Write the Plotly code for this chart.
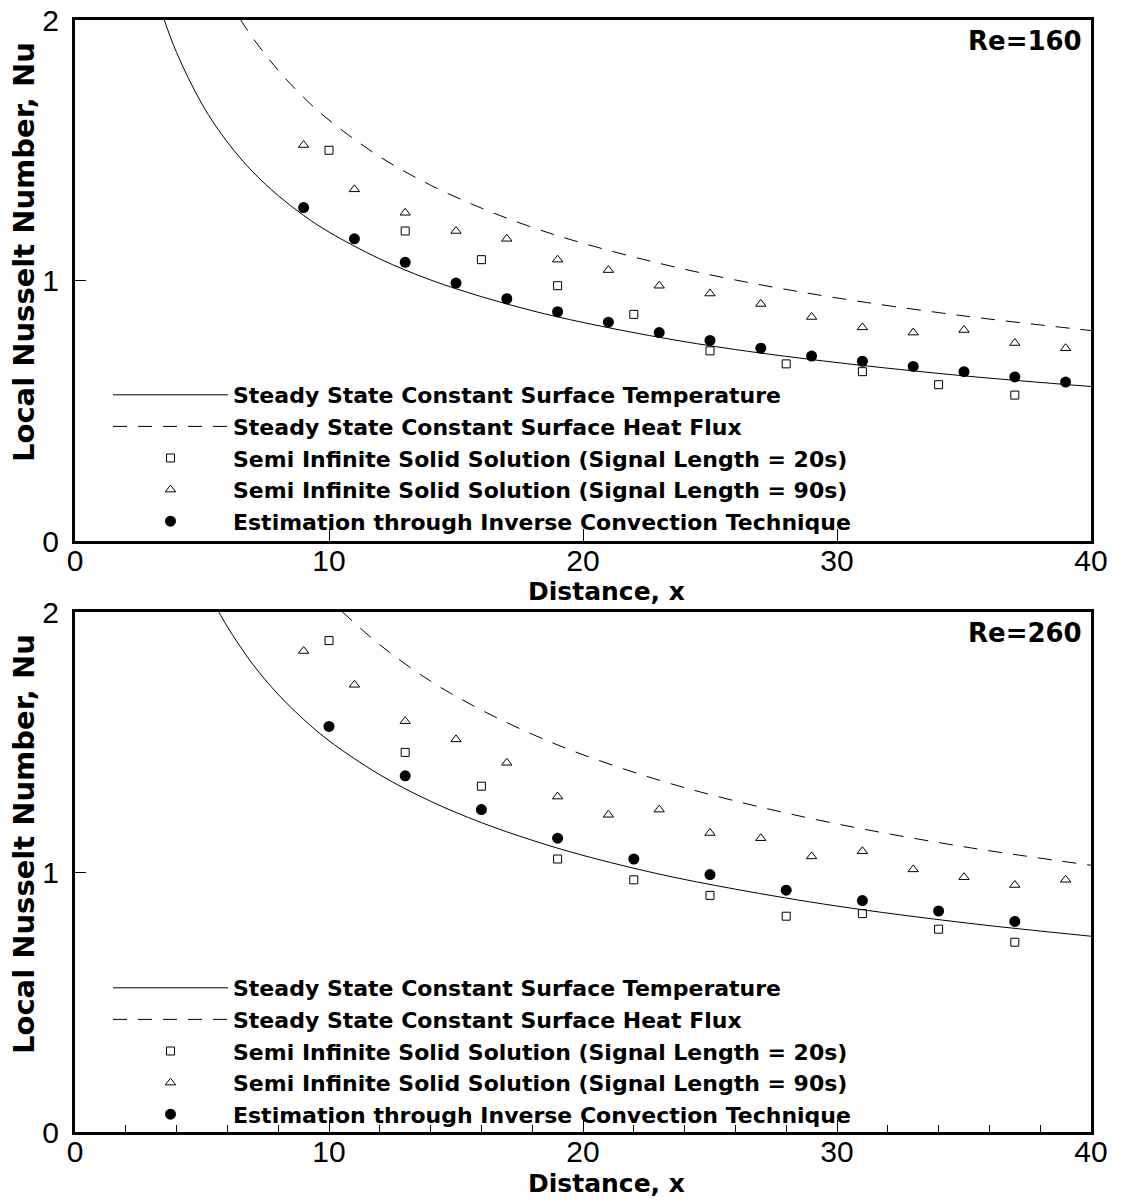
import plotly.graph_objects as go

# ---------------- data ----------------
# Re = 160
x_sst_160 = [3.5, 4, 5, 6, 7, 8, 9, 10, 12, 14, 16, 18, 20, 23, 26, 30, 35, 40]
nu_sst_160 = [2.004, 1.875, 1.677, 1.531, 1.417, 1.326, 1.250, 1.186, 1.083, 1.002,
              0.938, 0.884, 0.839, 0.782, 0.735, 0.685, 0.634, 0.593]
x_shf_160 = [6.5, 7, 8, 9, 10, 12, 14, 16, 18, 20, 23, 26, 30, 35, 40]
nu_shf_160 = [2.004, 1.931, 1.807, 1.703, 1.616, 1.475, 1.366, 1.278, 1.204, 1.143,
              1.066, 1.002, 0.933, 0.864, 0.808]
x_sq_160 = [10, 13, 16, 19, 22, 25, 28, 31, 34, 37]
nu_sq_160 = [1.50, 1.19, 1.08, 0.98, 0.87, 0.73, 0.68, 0.65, 0.60, 0.56]
x_tri_160 = [9, 11, 13, 15, 17, 19, 21, 23, 25, 27, 29, 31, 33, 35, 37, 39]
nu_tri_160 = [1.52, 1.35, 1.26, 1.19, 1.16, 1.08, 1.04, 0.98, 0.95, 0.91, 0.86, 0.82,
              0.80, 0.81, 0.76, 0.74]
x_inv_160 = [9, 11, 13, 15, 17, 19, 21, 23, 25, 27, 29, 31, 33, 35, 37, 39]
nu_inv_160 = [1.28, 1.16, 1.07, 0.99, 0.93, 0.88, 0.84, 0.80, 0.77, 0.74, 0.71, 0.69,
              0.67, 0.65, 0.63, 0.61]

# Re = 260
x_sst_260 = [5.6, 6, 7, 8, 9, 10, 12, 14, 16, 18, 20, 23, 26, 30, 35, 40]
nu_sst_260 = [2.011, 1.943, 1.799, 1.683, 1.587, 1.505, 1.374, 1.272, 1.190, 1.122,
              1.064, 0.992, 0.934, 0.869, 0.805, 0.753]
x_shf_260 = [10.5, 12, 14, 16, 18, 20, 23, 26, 30, 35, 40]
nu_shf_260 = [2.003, 1.874, 1.734, 1.623, 1.530, 1.451, 1.353, 1.273, 1.185, 1.097, 1.026]
x_sq_260 = [10, 13, 16, 19, 22, 25, 28, 31, 34, 37]
nu_sq_260 = [1.89, 1.46, 1.33, 1.05, 0.97, 0.91, 0.83, 0.84, 0.78, 0.73]
x_tri_260 = [9, 11, 13, 15, 17, 19, 21, 23, 25, 27, 29, 31, 33, 35, 37, 39]
nu_tri_260 = [1.85, 1.72, 1.58, 1.51, 1.42, 1.29, 1.22, 1.24, 1.15, 1.13, 1.06, 1.08,
              1.01, 0.98, 0.95, 0.97]
x_inv_260 = [10, 13, 16, 19, 22, 25, 28, 31, 34, 37]
nu_inv_260 = [1.56, 1.37, 1.24, 1.13, 1.05, 0.99, 0.93, 0.89, 0.85, 0.81]

names = ["Steady State Constant Surface Temperature",
         "Steady State Constant Surface Heat Flux",
         "Semi Infinite Solid Solution (Signal Length = 20s)",
         "Semi Infinite Solid Solution (Signal Length = 90s)",
         "Estimation through Inverse Convection Technique"]
x_ticks = [0, 10, 20, 30, 40]
y_ticks = [0, 1, 2]
panel_labels = ["Re=160", "Re=260"]
x_title = "Distance, x"
y_title = "Local Nusselt Number, Nu"

# ---------------- figure ----------------
W, H = 1130, 1201
fig = go.Figure()

BOLD = "DejaVu Sans"
REG = "Liberation Sans"

panels = [
    (x_sst_160, nu_sst_160, x_shf_160, nu_shf_160, x_sq_160, nu_sq_160,
     x_tri_160, nu_tri_160, x_inv_160, nu_inv_160, "x", "y", "legend"),
    (x_sst_260, nu_sst_260, x_shf_260, nu_shf_260, x_sq_260, nu_sq_260,
     x_tri_260, nu_tri_260, x_inv_260, nu_inv_260, "x2", "y2", "legend2"),
]

for (xs, ys, xh, yh, xq, yq, xt, yt, xi, yi, xa, ya, lg) in panels:
    fig.add_trace(go.Scatter(x=xs, y=ys, mode="lines", name=names[0],
                             line=dict(color="black", width=1, shape="spline"),
                             xaxis=xa, yaxis=ya, legend=lg))
    fig.add_trace(go.Scatter(x=xh, y=yh, mode="lines", name=names[1],
                             line=dict(color="black", width=1, shape="spline",
                                       dash="14px,11px"),
                             xaxis=xa, yaxis=ya, legend=lg))
    fig.add_trace(go.Scatter(x=xq, y=yq, mode="markers", name=names[2],
                             marker=dict(symbol="square-open", size=8, color="black",
                                         line=dict(width=1, color="black")),
                             xaxis=xa, yaxis=ya, legend=lg))
    fig.add_trace(go.Scatter(x=xt, y=yt, mode="markers", name=names[3],
                             marker=dict(symbol="triangle-up-open", size=9, color="black",
                                         line=dict(width=1, color="black")),
                             xaxis=xa, yaxis=ya, legend=lg))
    fig.add_trace(go.Scatter(x=xi, y=yi, mode="markers", name=names[4],
                             marker=dict(symbol="circle", size=11, color="black"),
                             xaxis=xa, yaxis=ya, legend=lg))

xdom = [75 / W, 1091 / W]
ydom_top = [1 - 541 / H, 1 - 20 / H]
ydom_bot = [1 - 1132 / H, 1 - 612 / H]

def xaxis_style(minor):
    d = dict(range=[0, 40], domain=xdom, tickvals=x_ticks, ticks="inside", ticklen=12,
             tickwidth=1, tickcolor="black", showline=True, linecolor="black",
             linewidth=3, mirror=True, showgrid=False, zeroline=False,
             automargin=False, ticklabelstandoff=-9,
             tickfont=dict(family=REG, size=30, color="black"))
    if minor:
        d["minor"] = dict(dtick=2, ticks="inside", ticklen=7, tickwidth=1,
                          tickcolor="black", showgrid=False)
    return d

def yaxis_style(dom):
    return dict(range=[0, 2], domain=dom, tickvals=y_ticks, ticks="inside", ticklen=11,
                tickwidth=1, tickcolor="black", showline=True, linecolor="black",
                linewidth=3, mirror=True, showgrid=False, zeroline=False,
                automargin=False, ticklabelstandoff=7,
                tickfont=dict(family=REG, size=30, color="black"))

fig.update_layout(
    template="none",
    width=W, height=H, margin=dict(l=0, r=0, t=0, b=0, autoexpand=False),
    paper_bgcolor="white", plot_bgcolor="white",
    xaxis=dict(**xaxis_style(False), anchor="y"),
    yaxis=dict(**yaxis_style(ydom_top), anchor="x"),
    xaxis2=dict(**xaxis_style(True), anchor="y2"),
    yaxis2=dict(**yaxis_style(ydom_bot), anchor="x2"),
    showlegend=True,
)

leg_common = dict(xref="paper", yref="paper", xanchor="left", yanchor="top",
                  bgcolor="rgba(0,0,0,0)", borderwidth=0, itemwidth=115,
                  tracegroupgap=0, traceorder="normal",
                  font=dict(family=BOLD, size=22, color="black", weight="bold"))
fig.update_layout(
    legend=dict(**leg_common, x=108 / W, y=1 - 374 / H),
    legend2=dict(**leg_common, x=108 / W, y=1 - 967 / H),
)

annotations = []
for lab, ycen in zip(panel_labels, [41, 633]):
    annotations.append(dict(text=lab, xref="paper", yref="paper", x=1084 / W,
                            y=1 - ycen / H, xanchor="right", yanchor="middle",
                            showarrow=False,
                            font=dict(family=BOLD, size=26, color="black", weight="bold")))
for ycen in [591, 1183]:
    annotations.append(dict(text=x_title, xref="paper", yref="paper", x=606 / W,
                            y=1 - ycen / H, xanchor="center", yanchor="middle",
                            showarrow=False,
                            font=dict(family=BOLD, size=25, color="black", weight="bold")))
for ycen in [252, 844]:
    annotations.append(dict(text=y_title, xref="paper", yref="paper", x=24 / W,
                            y=1 - ycen / H, xanchor="center", yanchor="middle",
                            textangle=-90, showarrow=False,
                            font=dict(family=BOLD, size=29, color="black", weight="bold")))
fig.update_layout(annotations=annotations)

fig.write_html("out.html")
